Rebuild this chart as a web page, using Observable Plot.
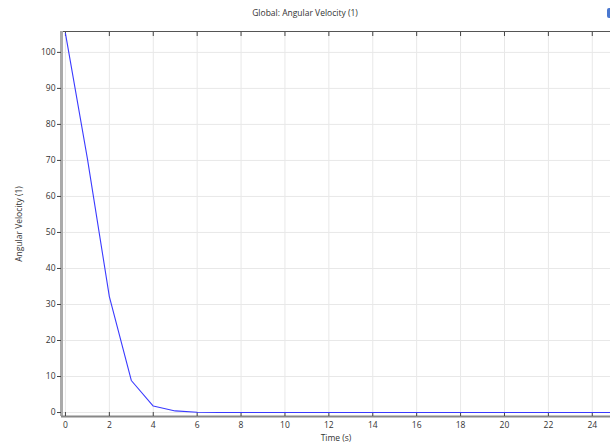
<!DOCTYPE html>
<html>
<head>
<meta charset="utf-8">
<script src="https://cdn.jsdelivr.net/npm/d3@7"></script>
<script src="https://cdn.jsdelivr.net/npm/@observablehq/plot@0.6"></script>
<style>
  html, body { margin: 0; padding: 0; background: #fff; }
  #wrap { position: relative; width: 610px; height: 442px; overflow: hidden; font-family: "Open Sans", "DejaVu Sans", sans-serif; }
  #title { height: 24px; line-height: 26px; text-align: center; font-size: 8.5px; color: #333; }
  #info { position: absolute; right: -4px; top: 8px; width: 7px; height: 10px; border-radius: 2px; background: #4a78d0; }
</style>
</head>
<body>
<div id="wrap">
  <div id="title">Global: Angular Velocity (1)</div>
  <div id="info"></div>
  <div id="chart"></div>
</div>
<script>
// Angular velocity of the rotor against simulation time
const time = [0, 1, 2, 3, 4, 5, 6, 7, 8, 9, 10, 11, 12, 13, 14, 15, 16, 17, 18, 19, 20, 21, 22, 23, 24, 25];
const angularVelocity = [105.3, 70.5, 32.2, 8.9, 1.8, 0.45, 0.1, 0.02, 0, 0, 0, 0, 0, 0, 0, 0, 0, 0, 0, 0, 0, 0, 0, 0, 0, 0];
const xTicks = [0, 2, 4, 6, 8, 10, 12, 14, 16, 18, 20, 22, 24];
const yTicks = [0, 10, 20, 30, 40, 50, 60, 70, 80, 90, 100];

const data = time.map((t, i) => ({t, v: angularVelocity[i]}));
const xDomain = [-0.18, 24.83];
const yDomain = [-1.1, 105.8];

const chart = Plot.plot({
  width: 610,
  height: 418,
  marginTop: 7,
  marginBottom: 26,
  marginLeft: 61,
  marginRight: 0,
  style: {fontFamily: "'Open Sans', 'DejaVu Sans', sans-serif", fontSize: "8.5px", color: "#333", background: "#fff"},
  x: {domain: xDomain, label: "Time (s)"},
  y: {domain: yDomain, label: "Angular Velocity (1)"},
  marks: [
    Plot.gridX(xTicks, {stroke: "#e8e8e8", strokeOpacity: 1}),
    Plot.gridY(yTicks, {stroke: "#e8e8e8", strokeOpacity: 1}),
    Plot.ruleY([yDomain[1]], {stroke: "#555", strokeWidth: 1.2}),
    Plot.ruleX([xDomain[0]], {stroke: "#aaa", strokeWidth: 3}),
    Plot.ruleY([yDomain[0]], {stroke: "#888", strokeWidth: 2}),
    Plot.axisX(xTicks, {anchor: "top", tickSize: -4, text: null, label: null, stroke: "#444"}),
    Plot.axisX(xTicks, {anchor: "bottom", tickSize: -4, tickPadding: 9, stroke: "#444", fill: "#333",
      label: "Time (s)", labelAnchor: "center", labelArrow: "none", labelOffset: 24}),
    Plot.axisY(yTicks, {anchor: "left", tickSize: 4, tickPadding: 2, stroke: "#444", fill: "#333",
      label: "Angular Velocity (1)", labelAnchor: "center", labelArrow: "none", labelOffset: 46}),
    Plot.line(data, {x: "t", y: "v", stroke: "#3a3aff", strokeWidth: 1.1})
  ]
});
document.getElementById("chart").appendChild(chart);
</script>
</body>
</html>
